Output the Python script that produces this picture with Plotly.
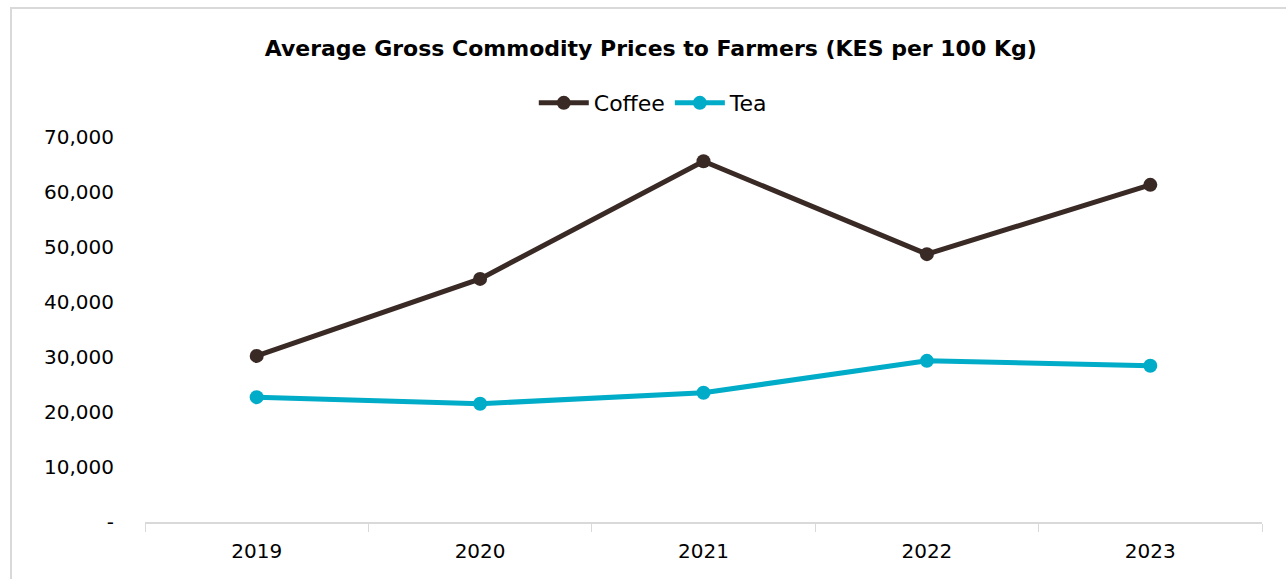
import plotly.graph_objects as go

years = ["2019", "2020", "2021", "2022", "2023"]
coffee = [30200, 44200, 65600, 48700, 61300]
tea = [22700, 21500, 23500, 29300, 28400]
ytick_vals = [0, 10000, 20000, 30000, 40000, 50000, 60000, 70000]
ytick_text = ["-", "10,000", "20,000", "30,000", "40,000", "50,000", "60,000", "70,000"]

FONT = "'DejaVu Sans', sans-serif"

fig = go.Figure()
fig.add_trace(go.Scatter(x=years, y=coffee, name="Coffee", mode="lines+markers",
                         line=dict(color="#3a2a25", width=5),
                         marker=dict(color="#3a2a25", size=14)))
fig.add_trace(go.Scatter(x=years, y=tea, name="Tea", mode="lines+markers",
                         line=dict(color="#00acc8", width=5),
                         marker=dict(color="#00acc8", size=14)))

fig.update_layout(
    width=1286, height=579,
    margin=dict(l=145, r=24, t=137, b=57, autoexpand=False),
    paper_bgcolor="white", plot_bgcolor="white",
    font=dict(family=FONT, color="#000000"),
    title=dict(text="<b>Average Gross Commodity Prices to Farmers (KES per 100 Kg)</b>",
               x=0.506, xref="container", xanchor="center",
               y=0.917, yref="container", yanchor="middle",
               font=dict(size=22, family=FONT, color="#000000")),
    legend=dict(orientation="h", x=0.508, xref="container", xanchor="center",
                y=0.822, yref="container", yanchor="middle",
                font=dict(size=22, family=FONT), itemwidth=50,
                bgcolor="rgba(0,0,0,0)"),
    showlegend=True,
    shapes=[dict(type="rect", xref="paper", yref="paper",
                 x0=(11 - 145) / 1117, x1=(1300 - 145) / 1117,
                 y0=-0.3, y1=(522 - 8) / 385,
                 line=dict(color="#d9d9d9", width=2), fillcolor="rgba(0,0,0,0)",
                 layer="below")],
)

fig.update_xaxes(type="category", range=[-0.5, 4.5], showgrid=False, showline=True,
                 linecolor="#d9d9d9", linewidth=1.5, ticks="outside",
                 tickson="boundaries", ticklen=8, tickcolor="#d9d9d9",
                 ticklabelstandoff=10,
                 tickfont=dict(size=20, family=FONT, color="#000000"),
                 zeroline=False)
fig.update_yaxes(range=[0, 70000], tickvals=ytick_vals, ticktext=ytick_text,
                 showgrid=False, showline=False, zeroline=False, ticks="",
                 ticklabelstandoff=30,
                 tickfont=dict(size=20, family=FONT, color="#000000"))

fig.write_html("out.html", config={"displayModeBar": False},
               post_script="document.body.style.margin='0';document.body.style.overflow='hidden';")
